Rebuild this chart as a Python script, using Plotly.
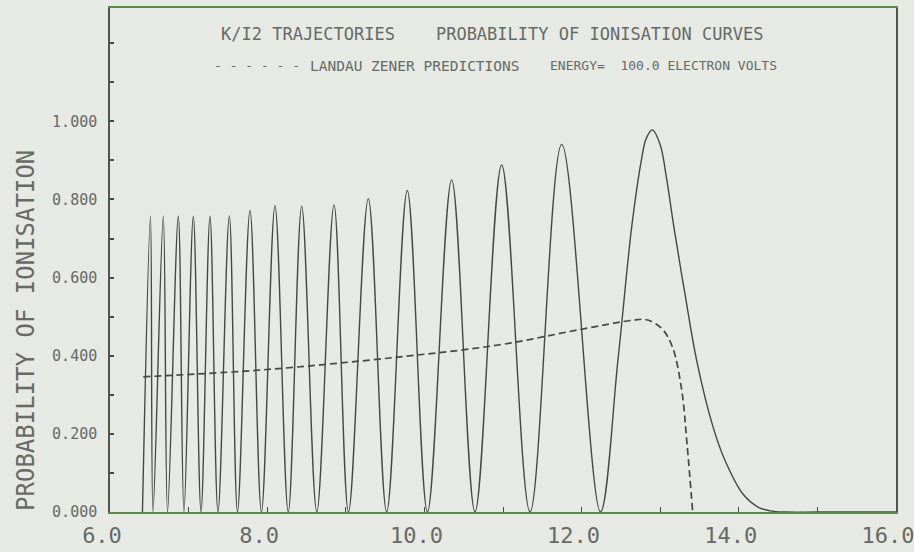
import plotly.graph_objects as go

# ---- data ----
# solid curve: probability of ionisation (trajectory calculation)
solid_x = [6.413, 6.515, 6.547, 6.678, 6.732, 6.869, 6.941, 7.060, 7.158, 7.272,
           7.374, 7.518, 7.622, 7.781, 7.927, 8.099, 8.268, 8.439, 8.631, 8.850,
           9.034, 9.286, 9.520, 9.782, 10.039, 10.347, 10.644, 10.983, 11.344, 11.747,
           12.240, 12.463, 12.637, 12.760, 12.820, 12.900, 13.000, 13.080, 13.176, 13.316,
           13.465, 13.672, 13.825, 14.053, 14.25, 14.40, 14.60, 15.0, 16.0]
solid_y = [0.0, 0.757, 0.0, 0.757, 0.0, 0.757, 0.0, 0.757, 0.0, 0.757,
           0.0, 0.758, 0.0, 0.772, 0.0, 0.784, 0.0, 0.783, 0.0, 0.786,
           0.0, 0.802, 0.0, 0.823, 0.0, 0.850, 0.0, 0.888, 0.0, 0.941,
           0.0, 0.390, 0.729, 0.900, 0.955, 0.978, 0.940, 0.855, 0.727, 0.557,
           0.387, 0.218, 0.132, 0.046, 0.012, 0.003, 0.0, 0.0, 0.0]

# dashed curve: Landau Zener predictions
lz_x = [6.424, 7.950, 9.690, 10.962, 11.980, 12.658, 12.828, 13.023, 13.156, 13.273, 13.341, 13.413]
lz_y = [0.346, 0.364, 0.397, 0.428, 0.467, 0.491, 0.492, 0.469, 0.422, 0.313, 0.175, 0.0]

x_tickvals = [6, 8, 10, 12, 14, 16]
x_ticktext = ["6.0", "8.0", "10.0", "12.0", "14.0", "16.0"]
y_tickvals = [0.0, 0.2, 0.4, 0.6, 0.8, 1.0]
y_ticktext = ["0.000", "0.200", "0.400", "0.600", "0.800", "1.000"]

title_text = "K/I2 TRAJECTORIES    PROBABILITY OF IONISATION CURVES"
legend_dashes = "- - - - - -"
legend_text = "LANDAU ZENER PREDICTIONS"
energy_text = "ENERGY=  100.0 ELECTRON VOLTS"
y_title = "PROBABILITY OF IONISATION"

# ---- styling ----
BG = "#e7e9e4"
INK = "#454844"
TXT = "#666a64"
GREEN = "#5b8a4c"
MONO = "DejaVu Sans Mono"

fig = go.Figure()
fig.add_trace(go.Scatter(x=solid_x, y=solid_y, mode="lines",
                         line=dict(color=INK, width=1.4, shape="spline", smoothing=1.0),
                         showlegend=False, hoverinfo="skip"))
fig.add_trace(go.Scatter(x=lz_x, y=lz_y, mode="lines",
                         line=dict(color=INK, width=1.7, dash="7px,4px", shape="spline", smoothing=1.0),
                         showlegend=False, hoverinfo="skip"))

fig.update_layout(
    width=914, height=552,
    margin=dict(l=110, r=18, t=8, b=40),
    paper_bgcolor=BG, plot_bgcolor=BG,
    showlegend=False,
    xaxis=dict(range=[6, 16], tickvals=x_tickvals, ticktext=x_ticktext,
               automargin=False,
               showgrid=False, zeroline=False,
               showline=True, linecolor=GREEN, linewidth=2, mirror=True,
               ticks="inside", ticklen=5, tickcolor=INK, tickwidth=1,
               minor=dict(dtick=1, ticks="inside", ticklen=5, tickcolor=INK),
               tickfont=dict(family=MONO, size=22, color=TXT),
               ticklabelstandoff=3, ticklabelshift=-8, ticklabeloverflow="allow"),
    yaxis=dict(range=[0, 1.29], tickvals=y_tickvals, ticktext=y_ticktext,
               automargin=False,
               showgrid=False, zeroline=False,
               showline=True, linecolor="#4f564c", linewidth=1.5, mirror=True,
               ticks="inside", ticklen=4, tickcolor=INK, tickwidth=1.5,
               minor=dict(dtick=0.1, ticks="inside", ticklen=4, tickcolor=INK),
               tickfont=dict(family=MONO, size=15, color=TXT),
               ticklabelstandoff=8),
)

fig.add_annotation(xref="paper", yref="paper", x=0.486, y=0.948, text=title_text,
                   showarrow=False, xanchor="center", yanchor="middle",
                   font=dict(family=MONO, size=17, color=TXT))
fig.add_annotation(xref="paper", yref="paper", x=0.130, y=0.885, text=legend_dashes,
                   showarrow=False, xanchor="left", yanchor="middle",
                   font=dict(family=MONO, size=13, color=TXT))
fig.add_annotation(xref="paper", yref="paper", x=0.252, y=0.885, text=legend_text,
                   showarrow=False, xanchor="left", yanchor="middle",
                   font=dict(family=MONO, size=14.5, color=TXT))
fig.add_annotation(xref="paper", yref="paper", x=0.557, y=0.885, text=energy_text,
                   showarrow=False, xanchor="left", yanchor="middle",
                   font=dict(family=MONO, size=13, color=TXT))
fig.add_annotation(xref="paper", yref="paper", x=-0.107, y=0.361, text=y_title,
                   showarrow=False, xanchor="center", yanchor="middle", textangle=-90,
                   font=dict(family=MONO, size=24, color=TXT))

fig.write_html("out.html")
